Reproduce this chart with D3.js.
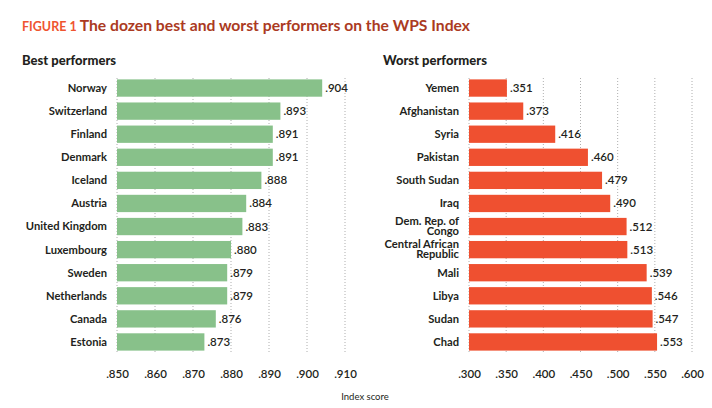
<!DOCTYPE html>
<html><head><meta charset="utf-8">
<script src="https://cdn.jsdelivr.net/npm/d3@7"></script>
<style>
body{margin:0;background:#fff;}
svg{display:block;font-family:Lato, "Open Sans", sans-serif;}
</style></head>
<body><svg id="c" width="712" height="408"></svg>
<script>
const bestCountries = ["Norway","Switzerland","Finland","Denmark","Iceland","Austria","United Kingdom","Luxembourg","Sweden","Netherlands","Canada","Estonia"];
const bestValues = [0.904,0.893,0.891,0.891,0.888,0.884,0.883,0.880,0.879,0.879,0.876,0.873];
const bestTicks = [0.85,0.86,0.87,0.88,0.89,0.90,0.91];
const worstCountries = ["Yemen","Afghanistan","Syria","Pakistan","South Sudan","Iraq","Dem. Rep. of\nCongo","Central African\nRepublic","Mali","Libya","Sudan","Chad"];
const worstValues = [0.351,0.373,0.416,0.460,0.479,0.490,0.512,0.513,0.539,0.546,0.547,0.553];
const worstTicks = [0.30,0.35,0.40,0.45,0.50,0.55,0.60];

const svg = d3.select("#c");
const fmt = v => d3.format(".3f")(v).replace(/^0/, "");

// Title
const title = svg.append("text").attr("x",22).attr("y",31);
title.append("tspan").text("FIGURE 1 ").attr("fill","#ef5430").attr("font-weight",700).attr("font-size",12.5);
title.append("tspan").text("The dozen best and worst performers on the WPS Index").attr("fill","#ab3a22").attr("font-weight",700).attr("font-size",15.7);

function panel(cfg){
  const g = svg.append("g");
  g.append("text").attr("x",cfg.titleX).attr("y",65).text(cfg.title)
    .attr("font-size",13).attr("font-weight",900).attr("fill","#231f20");
  const x = d3.scaleLinear().domain(cfg.domain).range(cfg.range);
  const y = d3.scaleBand().domain(cfg.cats.map((c,i)=>i)).range([76.5,353.5]).paddingInner(0.25).paddingOuter(0.125);
  // grid
  g.selectAll("line.grid").data(cfg.ticks).join("line")
    .attr("x1",d=>x(d)).attr("x2",d=>x(d)).attr("y1",78).attr("y2",353)
    .attr("stroke","#9a9a9a").attr("stroke-width",0.8).attr("stroke-dasharray","1,2");
  // axis tick labels
  const ax = g.append("g").attr("transform","translate(0,370)")
    .call(d3.axisBottom(x).tickValues(cfg.ticks).tickFormat(fmt).tickSize(0).tickPadding(0));
  ax.select(".domain").remove();
  ax.selectAll("text").attr("font-size",11.5).attr("font-weight",600).attr("fill","#231f20").attr("font-family","Lato");
  // bars
  g.selectAll("rect").data(cfg.vals).join("rect")
    .attr("x",x(cfg.domain[0])).attr("y",(d,i)=>y(i))
    .attr("width",d=>x(d)-x(cfg.domain[0])).attr("height",y.bandwidth())
    .attr("fill",cfg.color);
  // value labels
  g.selectAll("text.val").data(cfg.vals).join("text").attr("class","val")
    .attr("x",d=>x(d)+3).attr("y",(d,i)=>y(i)+y.bandwidth()/2).attr("dy","0.35em")
    .attr("font-size",11.5).attr("font-weight",600).attr("fill","#231f20").text(fmt);
  // category labels
  cfg.cats.forEach((c,i)=>{
    const lines = c.split("\n");
    const two = lines.length > 1;
    const t = g.append("text").attr("x",x(cfg.domain[0])-10).attr("text-anchor","end")
      .attr("font-size",11.2).attr("font-weight",700).attr("fill","#231f20");
    const cy = y(i)+y.bandwidth()/2 - (two ? 0.8 : 0);
    lines.forEach((l,j)=>{
      t.append("tspan").attr("x",x(cfg.domain[0])-10)
        .attr("y",cy + (j-(lines.length-1)/2)*10).attr("dy","0.35em").text(l);
    });
  });
}

panel({title:"Best performers",titleX:22,cats:bestCountries,vals:bestValues,ticks:bestTicks,domain:[0.85,0.91],range:[117,345],color:"#88c18a"});
panel({title:"Worst performers",titleX:383,cats:worstCountries,vals:worstValues,ticks:worstTicks,domain:[0.30,0.60],range:[469,692],color:"#ef5030"});

svg.append("text").attr("x",365).attr("y",400).attr("text-anchor","middle")
  .attr("font-size",9.5).attr("fill","#231f20").text("Index score");
</script></body></html>
